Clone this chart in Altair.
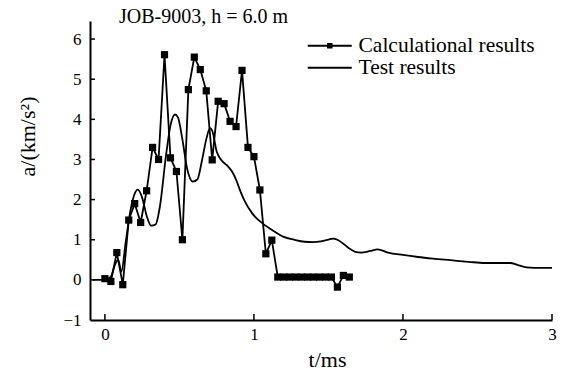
import altair as alt
import pandas as pd

# ---- data ----
calc_t = [0.00, 0.04, 0.08, 0.12, 0.16, 0.20, 0.24, 0.28, 0.32, 0.36, 0.40, 0.44,
          0.48, 0.52, 0.56, 0.60, 0.64, 0.68, 0.72, 0.76, 0.80, 0.84, 0.88, 0.92,
          0.96, 1.00, 1.04, 1.08, 1.12, 1.16, 1.20, 1.24, 1.28, 1.32, 1.36, 1.40,
          1.44, 1.48, 1.52, 1.56, 1.60, 1.64]
calc_a = [0.03, -0.04, 0.68, -0.12, 1.49, 1.90, 1.43, 2.22, 3.30, 3.00, 5.61, 3.04,
          2.70, 1.00, 4.74, 5.55, 5.24, 4.71, 2.99, 4.45, 4.39, 3.95, 3.82, 5.22,
          3.30, 3.07, 2.24, 0.65, 0.99, 0.07, 0.07, 0.07, 0.07, 0.07, 0.07, 0.07,
          0.07, 0.07, 0.07, -0.18, 0.11, 0.07]

test_t = [-0.08, 0.00, 0.04, 0.07, 0.09, 0.11, 0.14, 0.17, 0.20, 0.22, 0.25, 0.28,
          0.31, 0.34, 0.37, 0.41, 0.44, 0.47, 0.49, 0.52, 0.55, 0.59, 0.62, 0.65,
          0.68, 0.705, 0.72, 0.75, 0.78, 0.82, 0.85, 0.88, 0.91, 0.94, 0.99, 1.06,
          1.14, 1.20, 1.27, 1.34, 1.40, 1.45, 1.50, 1.53, 1.56, 1.60, 1.64, 1.68,
          1.72, 1.78, 1.83, 1.90, 2.00, 2.10, 2.20, 2.32, 2.44, 2.55, 2.65, 2.72,
          2.77, 2.83, 2.88, 3.00]
test_a = [0.00, 0.00, 0.08, 0.40, 0.50, 0.20, 0.95, 1.70, 2.15, 2.25, 2.05, 1.60,
          1.35, 1.38, 1.85, 3.10, 3.85, 4.12, 4.05, 3.50, 2.80, 2.45, 2.50, 2.95,
          3.50, 3.78, 3.72, 3.20, 2.99, 2.85, 2.72, 2.50, 2.20, 1.95, 1.65, 1.40,
          1.20, 1.07, 1.00, 0.95, 0.94, 0.96, 1.00, 1.03, 1.00, 0.90, 0.78, 0.70,
          0.68, 0.72, 0.76, 0.68, 0.62, 0.57, 0.53, 0.49, 0.45, 0.42, 0.42, 0.42,
          0.37, 0.31, 0.30, 0.30]

x_ticks = [0, 1, 2, 3]
y_ticks = [-1, 0, 1, 2, 3, 4, 5, 6]
series_names = ["Calculational results", "Test results"]
title_text = "JOB-9003, h = 6.0 m"
x_title = "t/ms"
y_title = "a/(km/s\u00b2)"

calc_df = pd.DataFrame({"t": calc_t, "a": calc_a})
test_df = pd.DataFrame({"t": test_t, "a": test_a})
xt_df = pd.DataFrame({"t": x_ticks})
yt_df = pd.DataFrame({"a": y_ticks})
leg_df = pd.DataFrame({"series": series_names})

W, H = 462, 299
FONT = "Liberation Serif"
xscale = alt.Scale(domain=[-0.1, 3], nice=False, zero=False)
yscale = alt.Scale(domain=[-1, 6.45], nice=False, zero=False)

x_axis = alt.Axis(values=x_ticks, format="d", title=x_title, grid=False, ticks=False,
                  domainColor="black", domainWidth=2, labelFont=FONT,
                  labelFontSize=17, labelColor="black", labelPadding=6,
                  labelFlush=False, labelOverlap=False,
                  titleFont=FONT, titleFontSize=22, titleFontWeight="normal",
                  titleColor="black", titleX=237, titleY=46,
                  titleBaseline="alphabetic", titleAlign="center")
y_axis = alt.Axis(values=y_ticks, format="d", title=y_title, grid=False, ticks=False,
                  domainColor="black", domainWidth=2, labelFont=FONT,
                  labelFontSize=17, labelColor="black", labelPadding=9,
                  labelFlush=False, labelOverlap=False,
                  titleFont=FONT, titleFontSize=22, titleFontWeight="normal",
                  titleColor="black", titleX=-63, titleY=115,
                  titleBaseline="middle", titleAlign="center")

X = alt.X("t:Q", scale=xscale, axis=x_axis)
Y = alt.Y("a:Q", scale=yscale, axis=y_axis)

test_line = alt.Chart(test_df).mark_line(
    color="black", strokeWidth=1.8, interpolate="monotone").encode(x=X, y=Y)
calc_line = alt.Chart(calc_df).mark_line(
    color="black", strokeWidth=1.8).encode(x=X, y=Y)
calc_pts = alt.Chart(calc_df).mark_square(
    color="black", size=52, opacity=1).encode(x=X, y=Y)

x_tick_rules = alt.Chart(xt_df).mark_rule(color="black", strokeWidth=1.5).encode(
    x=alt.X("t:Q", scale=xscale), y=alt.value(H), y2=alt.value(H - 6))
y_tick_rules = alt.Chart(yt_df).transform_filter("datum.a > -1").mark_rule(
    color="black", strokeWidth=1.5).encode(
    y=alt.Y("a:Q", scale=yscale), x=alt.value(0), x2=alt.value(5))

# legend symbols drawn as filled paths: a thin bar (line) plus a small square
path_calc = "M-4.4,-0.2H4.4V0.2H-4.4Z M-0.55,-0.55H0.55V0.55H-0.55Z"
path_test = "M-4.4,-0.2H4.4V0.2H-4.4Z"
legend_layer = alt.Chart(leg_df).transform_filter("false").mark_point(
    filled=True, fill="black", strokeWidth=0, opacity=1).encode(
    shape=alt.Shape("series:N",
                    scale=alt.Scale(domain=series_names, range=[path_calc, path_test]),
                    legend=alt.Legend(title=None, orient="none", legendX=229, legendY=14,
                                      symbolSize=100, symbolStrokeWidth=0,
                                      symbolFillColor="black",
                                      symbolOpacity=1, labelFont=FONT, labelFontSize=21.5,
                                      labelColor="black", labelOffset=18, rowPadding=-2,
                                      padding=0, labelLimit=400)))

chart = alt.layer(
    test_line, calc_line, calc_pts, x_tick_rules, y_tick_rules, legend_layer
).properties(
    width=W, height=H,
    title=alt.TitleParams(title_text, anchor="start", frame="group", dx=29, dy=9,
                          font=FONT, fontSize=20, fontWeight="normal", color="black",
                          offset=3),
    padding={"left": 82, "top": 13, "right": 8, "bottom": 50},
    autosize=alt.AutoSizeParams(type="none"),
).configure_view(stroke=None)

chart.save("out.html", embed_options={"renderer": "svg", "actions": False})
